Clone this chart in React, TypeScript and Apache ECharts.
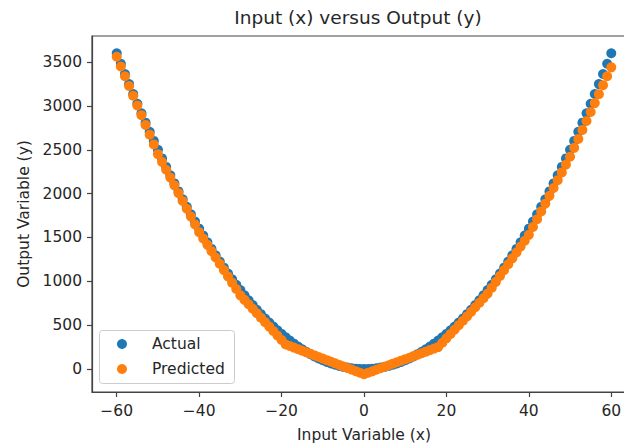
import React, { useEffect, useRef } from "react";
import * as echarts from "echarts";

const xValues = [
  -60, -59, -58, -57, -56, -55, -54, -53, -52, -51, -50, -49, -48, -47, -46, -45, -44, -43, -42, -41,
  -40, -39, -38, -37, -36, -35, -34, -33, -32, -31, -30, -29, -28, -27, -26, -25, -24, -23, -22, -21,
  -20, -19, -18, -17, -16, -15, -14, -13, -12, -11, -10, -9, -8, -7, -6, -5, -4, -3, -2, -1,
  0, 1, 2, 3, 4, 5, 6, 7, 8, 9, 10, 11, 12, 13, 14, 15, 16, 17, 18, 19,
  20, 21, 22, 23, 24, 25, 26, 27, 28, 29, 30, 31, 32, 33, 34, 35, 36, 37, 38, 39,
  40, 41, 42, 43, 44, 45, 46, 47, 48, 49, 50, 51, 52, 53, 54, 55, 56, 57, 58, 59, 60,
];

const actualY = [
  3600, 3481, 3364, 3249, 3136, 3025, 2916, 2809, 2704, 2601, 2500, 2401, 2304, 2209, 2116, 2025, 1936, 1849, 1764, 1681,
  1600, 1521, 1444, 1369, 1296, 1225, 1156, 1089, 1024, 961, 900, 841, 784, 729, 676, 625, 576, 529, 484, 441,
  400, 361, 324, 289, 256, 225, 196, 169, 144, 121, 100, 81, 64, 49, 36, 25, 16, 9, 4, 1,
  0, 1, 4, 9, 16, 25, 36, 49, 64, 81, 100, 121, 144, 169, 196, 225, 256, 289, 324, 361,
  400, 441, 484, 529, 576, 625, 676, 729, 784, 841, 900, 961, 1024, 1089, 1156, 1225, 1296, 1369, 1444, 1521,
  1600, 1681, 1764, 1849, 1936, 2025, 2116, 2209, 2304, 2401, 2500, 2601, 2704, 2809, 2916, 3025, 3136, 3249, 3364, 3481, 3600,
];

const predictedY = [
  3560, 3449, 3338, 3227, 3116, 3005, 2894, 2783, 2672, 2561, 2450,
  2361, 2272, 2183, 2094, 2005, 1916, 1827, 1738, 1649, 1560,
  1488, 1416, 1344, 1272, 1200, 1128, 1056, 984, 912, 840,
  789, 738, 687, 636, 585, 534, 484, 433, 382, 331, 280,
  262, 244, 226, 208, 191, 173, 155, 137, 119, 101, 83, 65, 47, 29, 12, -6, -24, -42, -60,
  -43, -26, -8, 9, 26, 43, 61, 78, 95, 112, 129, 147, 164, 181, 198, 216, 233, 250,
  300, 350, 400, 450, 500, 550, 600,
  652, 704, 756, 808, 860,
  927, 994, 1061, 1128, 1195, 1262, 1329, 1396, 1463, 1530,
  1619, 1708, 1797, 1886, 1975, 2064, 2153, 2242, 2331, 2420,
  2522, 2624, 2726, 2828, 2930, 3032, 3134, 3236, 3338, 3440,
];

const xTicks = [-60, -40, -20, 0, 20, 40, 60];
const yTicks = [0, 500, 1000, 1500, 2000, 2500, 3000, 3500];

const seriesNames = ["Actual", "Predicted"];
const titleText = "Input (x) versus Output (y)";
const xName = "Input Variable (x)";
const yName = "Output Variable (y)";

const FONT = "DejaVu Sans";
const TEXT = "#262626";
const SPINE = "#444";

const fmt = (v: number) => (v < 0 ? "\u2212" + Math.abs(v) : String(v));

export default function App() {
  const ref = useRef<HTMLDivElement>(null);
  useEffect(() => {
    document.body.style.margin = "0";
    if (!ref.current) return;
    const chart = echarts.init(ref.current, undefined, { renderer: "svg" });
    chart.setOption({
      animation: false,
      backgroundColor: "#fff",
      title: {
        text: titleText,
        left: 358,
        top: 8,
        padding: 0,
        textAlign: "center",
        textStyle: { fontFamily: FONT, fontSize: 18.5, fontWeight: "normal", color: TEXT },
      },
      grid: {
        left: 92,
        top: 36,
        width: 544,
        height: 356,
        outerBoundsMode: "none",
        containLabel: false,
        show: true,
        borderColor: SPINE,
        borderWidth: 1.2,
        backgroundColor: "transparent",
      },
      graphic: [
        {
          type: "rect",
          z: 3,
          shape: { x: 99.5, y: 330.5, width: 135, height: 53, r: 3 },
          style: { fill: "rgba(255,255,255,0.8)", stroke: "#cccccc", lineWidth: 1 },
        },
      ],
      legend: {
        orient: "vertical",
        left: 117,
        top: 336,
        padding: 0,
        itemGap: 9,
        itemWidth: 50,
        itemHeight: 10,
        icon: "circle",
        z: 4,
        data: seriesNames,
        textStyle: { fontFamily: FONT, fontSize: 15.5, color: TEXT },
      },
      xAxis: {
        type: "value",
        min: -66,
        max: 66,
        name: xName,
        nameLocation: "middle",
        nameGap: 35,
        nameTextStyle: { fontFamily: FONT, fontSize: 15.5, color: TEXT },
        axisLine: { show: true, onZero: false, lineStyle: { color: SPINE, width: 1.2 } },
        axisTick: { show: true, length: 5, customValues: xTicks, lineStyle: { color: SPINE, width: 1.2 } },
        axisLabel: {
          customValues: xTicks,
          margin: 11,
          fontFamily: FONT,
          fontSize: 15.5,
          color: TEXT,
          formatter: (v: number) => fmt(v),
        },
        splitLine: { show: false },
      },
      yAxis: {
        type: "value",
        min: -262,
        max: 3797,
        name: yName,
        nameLocation: "middle",
        nameGap: 60,
        nameTextStyle: { fontFamily: FONT, fontSize: 15.5, color: TEXT },
        axisLine: { show: true, onZero: false, lineStyle: { color: SPINE, width: 1.2 } },
        axisTick: { show: true, length: 5, customValues: yTicks, lineStyle: { color: SPINE, width: 1.2 } },
        axisLabel: {
          customValues: yTicks,
          margin: 10,
          fontFamily: FONT,
          fontSize: 15.5,
          color: TEXT,
          formatter: (v: number) => fmt(v),
        },
        splitLine: { show: false },
      },
      series: [
        {
          name: seriesNames[0],
          type: "scatter",
          symbol: "circle",
          symbolSize: 10,
          itemStyle: { color: "#1f77b4", opacity: 1 },
          data: xValues.map((x, i) => [x, actualY[i]]),
        },
        {
          name: seriesNames[1],
          type: "scatter",
          symbol: "circle",
          symbolSize: 10,
          itemStyle: { color: "#ff7f0e", opacity: 1 },
          data: xValues.map((x, i) => [x, predictedY[i]]),
        },
      ],
    });
    return () => chart.dispose();
  }, []);
  return <div ref={ref} style={{ width: 624, height: 443, overflow: "hidden" }} />;
}
